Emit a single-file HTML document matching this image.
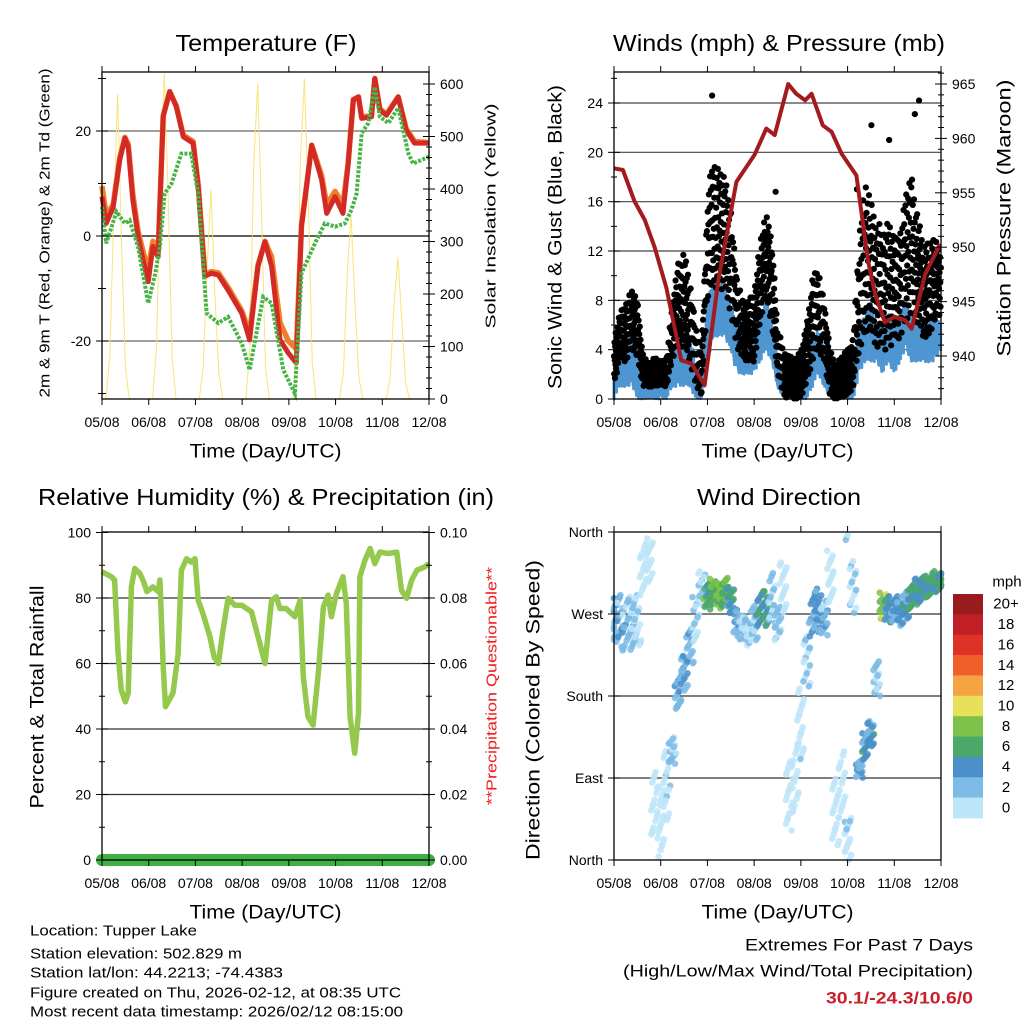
<!DOCTYPE html>
<html><head><meta charset="utf-8"><style>
html,body{margin:0;padding:0;background:#fff}
svg{display:block;font-family:"Liberation Sans",Arial,sans-serif}
</style></head><body>
<svg id="fig" width="1024" height="1024" viewBox="0 0 1024 1024" xmlns="http://www.w3.org/2000/svg">
<g id="layer"></g>
</svg>
<script>
// ---------- DATA ----------
const dayLabels = ["05/08","06/08","07/08","08/08","09/08","10/08","11/08","12/08"];
const tempT = [0,0.09,0.24,0.38,0.49,0.56,0.66,0.77,0.88,0.99,1.09,1.2,1.31,1.45,1.59,1.74,1.95,2.06,2.2,2.34,2.49,2.7,2.99,3.16,3.34,3.49,3.63,3.81,3.99,4.16,4.27,4.49,4.7,4.81,4.99,5.16,5.27,5.38,5.49,5.56,5.77,5.84,5.95,6.09,6.34,6.51,6.69,7.0];
const tempRed = [7.5,2.4,5.5,14.5,18.6,17,6.9,0,-4.6,-8.7,-2,-4,22.7,27.5,24.6,18.9,17.7,9.4,-7.7,-7.1,-7.4,-10.3,-14.7,-19.8,-5.8,-1.1,-5.8,-19.8,-22.3,-24.2,1.8,17.3,10.7,4.3,7.5,4.3,13.8,25.9,26.5,22.4,22.7,30,24,23,26.5,20.2,17.7,17.7];
const tempOrange = [9.5,4,6,15,18.8,17.5,8,1,-3,-6.5,-1,-3,23,27.5,24.8,19.2,18,9.8,-7.3,-6.8,-7,-9.8,-14.2,-18.5,-5.5,-1,-4,-16.5,-20,-21.5,2,17.3,11.5,6,8.5,6,14,26,26.5,22.6,23,30,24.2,23.2,26.5,20.5,18,17.8];
const dewT = [0,0.09,0.31,0.49,0.59,0.77,0.99,1.14,1.24,1.34,1.49,1.7,1.91,2.06,2.24,2.49,2.7,2.99,3.16,3.45,3.63,3.88,4.13,4.27,4.56,4.77,4.99,5.2,5.34,5.45,5.56,5.7,5.84,5.95,6.13,6.34,6.56,6.66,7.0];
const dewGreen = [5.6,-1.4,4.6,2.4,3,-2,-12.8,-7.1,-2,8.1,10,15.7,15.7,8.1,-14.7,-16.6,-15.4,-20.4,-25.5,-11.6,-12.8,-25.5,-30,-7.1,-1.4,2.4,1.8,2.4,5,8.1,19.6,21.5,28.4,22.7,21.5,24.4,15.7,13.8,15.1];
const solar = [0,0,80,350,580,300,60,0,0,0,0,0, 0,0,100,420,620,380,80,0,0,0,0,0, 0,0,60,250,400,200,50,0,0,0,0,0, 0,0,100,450,600,350,60,0,0,0,0,0, 0,0,90,460,610,380,70,0,0,0,0,0, 0,0,50,240,350,180,40,0,0,0,0,0, 0,0,40,180,270,150,30,0,0,0,0,0, 0];
const windLo = [0,1,1,1,0,0,0,0,0,0,1,1,1,1,0,0,3,5,5,5,4,2,2,2,2,3,4,3,1,0,0,0,0,0,1,2,1,0,0,0,0,0,2,3,3,3,2,3,2,3,4,3,3,3,3,3,4];
const windHi = [3,4,5,5,4,2,2,2,2,2,4,5,6,5,3,2,8,10,10,9,8,6,5,5,6,7,8,7,3,2,2,2,2,3,5,6,4,2,2,2,2,3,6,7,8,6,6,7,6,7,8,7,6,6,7,7,6];
const gustLo = [1,3,3,4,3,1,1,1,1,1,3,4,4,3,1,0,8,9,9,8,7,4,3,3,3,6,8,6,2,0,0,0,0,1,3,4,3,0,0,0,0,1,4,5,5,4,4,4,4,5,6,6,6,5,5,6,7];
const gustHi = [5,7,8,9,8,3.5,3,3.5,3,3.5,8,11,12,10,6,4,17,20,19,18,16,10,8,8,9,13,15,14,6,4,3.5,3.5,4,6,10,11,8,4,3,3.5,4,5,14,18,16,15,14,15,13,14,17,18,15,13,13,13,12];
const gustOutT = [2.1,3.46,5.51,6.44,6.53,5.89,5.2];
const gustOutV = [24.6,16.8,22.2,23.1,24.2,21,17];
const presT = [0,0.19,0.44,0.66,0.87,1.12,1.44,1.66,1.94,2.23,2.62,3.01,3.26,3.44,3.73,3.9,4.09,4.23,4.47,4.66,4.87,5.19,5.44,5.59,5.8,6.01,6.23,6.37,6.66,6.98];
const presV = [957.25,957.1,954.2,952.5,950,946.3,939.6,939.3,937.3,946.9,956,958.5,960.9,960.3,965,964.1,963.5,964.1,961.2,960.6,958.6,956.6,948.7,945.7,943.1,943.6,943.3,942.5,947.5,950.3];
const rhT = [0,0.2,0.27,0.34,0.41,0.5,0.56,0.63,0.7,0.81,0.89,0.96,1.09,1.2,1.24,1.31,1.36,1.52,1.63,1.7,1.81,1.91,1.99,2.06,2.16,2.31,2.4,2.49,2.59,2.7,2.84,2.99,3.2,3.34,3.49,3.63,3.73,3.81,3.94,4.13,4.24,4.31,4.41,4.52,4.63,4.74,4.84,4.91,5.02,5.16,5.23,5.31,5.41,5.49,5.52,5.63,5.74,5.84,5.95,6.13,6.31,6.41,6.52,6.63,6.74,6.91,7.0];
const rhV = [88,86.5,85.5,64,52,48.3,51,83.4,89,87.5,85,82,83.4,82,85.5,59,46.8,51,63,88.5,92,91,92,79.3,75.3,68.2,62,60,70.2,79.9,77.8,77.8,75.8,68.2,60,79.3,80.4,76.8,76.8,74.3,79.3,56,43.7,41.2,57,77.3,80.9,74.3,81.4,86.5,78.3,43.7,32.6,44.8,86.5,91.6,95.1,90.5,94,93.6,94,82.4,79.9,85.5,88.5,89.5,90.5];
const precip = [0,0];
const wdDir = [265,262,258,260,265,320,330,60,40,80,120,185,205,235,265,300,290,295,290,295,285,260,255,250,260,275,275,285,260,300,70,90,150,220,270,275,265,310,50,80,20,300,100,125,140,200,280,275,275,270,280,290,295,300,300,305,305];
const wdSpd = [3,3,3,3,2,0,0,0,0,1,3,4,4,3,1,1,7,8,9,8,5,3,2,2,3,6,6,2,2,0,0,1,1,2,4,4,3,0,1,1,1,1,3,5,5,3,9,5,4,4,5,7,6,6,6,6,6];
const wdSpread = [25,30,30,30,30,30,25,40,40,40,15,20,20,20,25,20,15,15,15,15,15,15,15,15,20,20,20,30,20,30,40,40,40,30,25,25,20,30,40,40,30,30,10,15,15,20,15,15,15,15,15,15,15,12,12,12,10];
const cbLabels = ["20+","18","16","14","12","10","8","6","4","2","0"];
const cbColors = ["#981b1e","#c11f26","#de3127","#ef5f2a","#f6a443","#e6e05a","#7dc24a","#4aa86a","#4a8fc8","#7dbbe6","#bde5f8"];

// ---------- HELPERS ----------
const NS="http://www.w3.org/2000/svg";
const root=document.getElementById('layer');
function mk(tag,attrs,parent){const e=document.createElementNS(NS,tag);for(const k in attrs)e.setAttribute(k,attrs[k]);(parent||root).appendChild(e);return e;}
function txt(s,x,y,size,anchor,extra){const e=mk('text',Object.assign({x:x,y:y,'font-size':size,'text-anchor':anchor||'middle','dominant-baseline':'central',fill:'#000'},extra||{}));e.textContent=s;return e;}
const L={x0:102,x1:429}, R={x0:614,x1:941}, TOP={y0:72,y1:399}, BOT={y0:532,y1:860};
function X(p,t){return p.x0+t*(p.x1-p.x0)/7;}
function lin(v,v0,y0,v1,y1){return y0+(v-v0)*(y1-y0)/(v1-v0);}
function frac(k){return (k*0.6180339)%1;}

function frame(p,r,name){
  const b=mk('rect',{x:p.x0,y:r.y0,width:p.x1-p.x0,height:r.y1-r.y0,fill:'none',stroke:'#000','stroke-width':1.3});
  
  
  for(let d=0;d<=7;d++){
    const x=X(p,d);
    mk('line',{x1:x,y1:r.y1,x2:x,y2:r.y1+6,stroke:'#000','stroke-width':1});
    mk('line',{x1:x,y1:r.y0,x2:x,y2:r.y0-6,stroke:'#000','stroke-width':1});
    const t=txt(dayLabels[d],x,r.y1+23,14);
    
    
  }
  const xt=txt('Time (Day/UTC)',(p.x0+p.x1)/2,r.y1+53,19,'middle',{textLength:152,lengthAdjust:'spacingAndGlyphs'});
  
  
}
function hgrid(p,y,col){mk('line',{x1:p.x0,y1:y,x2:p.x1,y2:y,stroke:col||'#444','stroke-width':1.2});}
function ytick(p,y,side,label,len){
  len=len||6;
  if(side==='l'){mk('line',{x1:p.x0-len,y1:y,x2:p.x0+len,y2:y,stroke:'#000','stroke-width':1});if(label!==null){const t=txt(label,p.x0-11,y,14,'end');}}
  else{mk('line',{x1:p.x1-len,y1:y,x2:p.x1+len,y2:y,stroke:'#000','stroke-width':1});if(label!==null){const t=txt(label,p.x1+11,y,14,'start');}}
}
function vlabel(s,x,y,size,len,fill,name){const t=txt(s,x,y,size,'middle',{transform:`rotate(-90 ${x} ${y})`,textLength:len,lengthAdjust:'spacingAndGlyphs',fill:fill||'#000'});return t;}
function title(s,x,len,y,name){const t=txt(s,x,y,23,'middle',{textLength:len,lengthAdjust:'spacingAndGlyphs'});}
function path(pts){return pts.map((p,i)=>(i?'L':'M')+p[0].toFixed(1)+' '+p[1].toFixed(1)).join(' ');}
function spdColor(s){let i=Math.floor(s/2);if(i>10)i=10;if(i<0)i=0;return cbColors[10-i];}

// ---------- PANEL 1: TEMPERATURE ----------
title('Temperature (F)',266,181,43,'temperature-title');
const tY=v=>lin(v,0,236,20,131);
const sY=v=>lin(v,0,399,600,84);
hgrid(L,tY(20),'#666');hgrid(L,tY(-20),'#666');hgrid(L,tY(0),'#000');
const gSol=mk('g',{});
mk('path',{d:path(solar.map((v,i)=>[X(L,i/12),sY(v)])),fill:'none',stroke:'#f7e26b','stroke-width':1,opacity:0.9},gSol);
const gTo=mk('path',{d:path(tempT.map((t,i)=>[X(L,t),tY(tempOrange[i])])),fill:'none',stroke:'#f07f2a','stroke-width':5.5,'stroke-linejoin':'round'});

const gTr=mk('path',{d:path(tempT.map((t,i)=>[X(L,t),tY(tempRed[i])])),fill:'none',stroke:'#d42a26','stroke-width':5,'stroke-linejoin':'round'});

const gTd=mk('path',{d:path(dewT.map((t,i)=>[X(L,t),tY(dewGreen[i])])),fill:'none',stroke:'#48b347','stroke-width':4,'stroke-dasharray':'3 1.5'});

frame(L,TOP,'temperature');
for(let v=-30;v<=30;v+=10){ytick(L,tY(v),'l',(v%20===0)?String(v):null, v%20===0?6:4);}
for(let v=0;v<=600;v+=20){ytick(L,sY(v),'r',(v%100===0)?String(v):null,v%100===0?6:3);}
vlabel('2m & 9m T (Red, Orange) & 2m Td (Green)',45,233,15,329,'#000','temperature-y-axis-title');
vlabel('Solar Insolation (Yellow)',491,216,15,225,'#000','solar-y-axis-title');

// ---------- PANEL 2: WINDS ----------
title('Winds (mph) & Pressure (mb)',779,332,43,'winds-title');
const wY=v=>lin(v,0,399,24,103);
const pY=v=>lin(v,940,356,965,84);
for(let v=4;v<=24;v+=4)hgrid(R,wY(v),'#444');
const gBand=mk('g',{});
for(let i=0;i<windHi.length-1;i++){for(let k=0;k<14;k++){const f=k/14;const lo=windLo[i]+(windLo[i+1]-windLo[i])*f,hi=windHi[i]+(windHi[i+1]-windHi[i])*f;
 const a=lo+(hi-lo)*0.35*frac(k*3+i), b=lo+(hi-lo)*(0.55+0.45*frac(k+i*7));
 mk('line',{x1:X(R,(i+f)/8),y1:wY(a),x2:X(R,(i+f)/8),y2:wY(b),stroke:'#4f96d2','stroke-width':3,'stroke-linecap':'round'},gBand);}}
const gG=mk('g',{fill:'#000'});
for(let i=0;i<gustHi.length-1;i++){for(let k=0;k<24;k++){const f=k/24;const lo=gustLo[i]+(gustLo[i+1]-gustLo[i])*f,hi=gustHi[i]+(gustHi[i+1]-gustHi[i])*f;
 const v=lo+(hi-lo)*frac(k+i*13+1);mk('circle',{cx:X(R,(i+f)/8),cy:wY(v),r:3.1},gG);}}
gustOutT.forEach((t,i)=>mk('circle',{cx:X(R,t),cy:wY(gustOutV[i]),r:3.1},gG));
const pl=mk('path',{d:path(presT.map((t,i)=>[X(R,t),pY(presV[i])])),fill:'none',stroke:'#a31b1f','stroke-width':4,'stroke-linejoin':'round'});

frame(R,TOP,'winds');
for(let v=0;v<=26;v+=2){ytick(R,wY(v),'l',(v%4===0)?String(v):null,v%4===0?6:3);}
for(let v=937;v<=966;v+=1){ytick(R,pY(v),'r',(v%5===0)?String(v):null,v%5===0?6:3);}
vlabel('Sonic Wind & Gust (Blue, Black)',556,237,19,304,'#000','wind-y-axis-title');
vlabel('Station Pressure (Maroon)',1005,218,19,277,'#000','pressure-y-axis-title');

// ---------- PANEL 3: RH ----------
title('Relative Humidity (%) & Precipitation (in)',266,456,497,'rh-title');
const rY=v=>lin(v,0,860,100,532.5);
const qY=v=>lin(v,0,860,0.1,532.5);
for(let v=20;v<=80;v+=20)hgrid(L,rY(v),'#333');
const rl=mk('path',{d:path(rhT.map((t,i)=>[X(L,t),rY(rhV[i])])),fill:'none',stroke:'#94c94d','stroke-width':5.5,'stroke-linejoin':'round'});

const pr=mk('path',{d:path(precip.map((v,i)=>[X(L,i*7),qY(v)])),fill:'none',stroke:'#3fae45','stroke-width':12,'stroke-linecap':'round'});

frame(L,BOT,'rh');
for(let v=0;v<=100;v+=10){ytick(L,rY(v),'l',(v%20===0)?String(v):null,v%20===0?6:3);}
for(let v=0;v<=10;v+=1){ytick(L,qY(v/100),'r',(v%2===0)?(v/100).toFixed(2):null,v%2===0?6:3);}
vlabel('Percent & Total Rainfall',38,697,19,223,'#000','rh-y-axis-title');
vlabel('**Precipitation Questionable**',492,686,15,238,'#ee1c1c','precip-y-axis-title');

// ---------- PANEL 4: WIND DIRECTION ----------
title('Wind Direction',779,164,497,'wind-direction-title');
const dY=v=>lin(v,0,860,360,532);
[90,180,270].forEach(v=>hgrid(R,dY(v),'#333'));
const gD=mk('g',{});
for(let i=0;i<wdDir.length;i++){for(let k=0;k<18;k++){
  const dt=(frac(k*3+i)-0.5)*0.16, dd=(frac(k+i*5+2)-0.5)*2*wdSpread[i];
  let d=wdDir[i]+dd; d=((d%360)+360)%360;
  const s=Math.max(0,wdSpd[i]+(frac(k*7+i)-0.5)*3);
  const t=Math.min(7,Math.max(0,i/8+dt));
  mk('circle',{cx:X(R,t),cy:dY(d),r:3.3,fill:spdColor(s),opacity:0.85},gD);}}
frame(R,BOT,'wind-direction');
[["North",0],["East",90],["South",180],["West",270],["North",360]].forEach(a=>ytick(R,dY(a[1]),'l',a[0],6));
vlabel('Direction (Colored By Speed)',534,710,19,300,'#000','direction-y-axis-title');
const cb=mk('g',{});
const cbH=(818-594)/cbColors.length;
cbColors.forEach((c,i)=>{mk('rect',{x:953,y:594+i*cbH,width:30,height:cbH+0.3,fill:c},cb);
  const t=txt(cbLabels[i],1006,594+(i+0.5)*cbH,15,'middle');});
const mph=txt('mph',1007,582,15,'middle');

// ---------- FOOTER TEXT ----------
const info=[["Location: Tupper Lake",931,167],["Station elevation: 502.829 m",954,212],["Station lat/lon: 44.2213; -74.4383",973,253],["Figure created on Thu, 2026-02-12, at 08:35 UTC",993,371],["Most recent data timestamp: 2026/02/12 08:15:00",1012,373]];
info.forEach(a=>{const t=txt(a[0],30,a[1],15,'start',{textLength:a[2],lengthAdjust:'spacingAndGlyphs'});});
const e1=txt('Extremes For Past 7 Days',973,945,17,'end',{textLength:228,lengthAdjust:'spacingAndGlyphs'});
const e2=txt('(High/Low/Max Wind/Total Precipitation)',973,971,17,'end',{textLength:350,lengthAdjust:'spacingAndGlyphs'});
const e3=txt('30.1/-24.3/10.6/0',973,998,17,'end',{fill:'#c8202a','font-weight':'bold',textLength:147,lengthAdjust:'spacingAndGlyphs'});
</script>
</body></html>
